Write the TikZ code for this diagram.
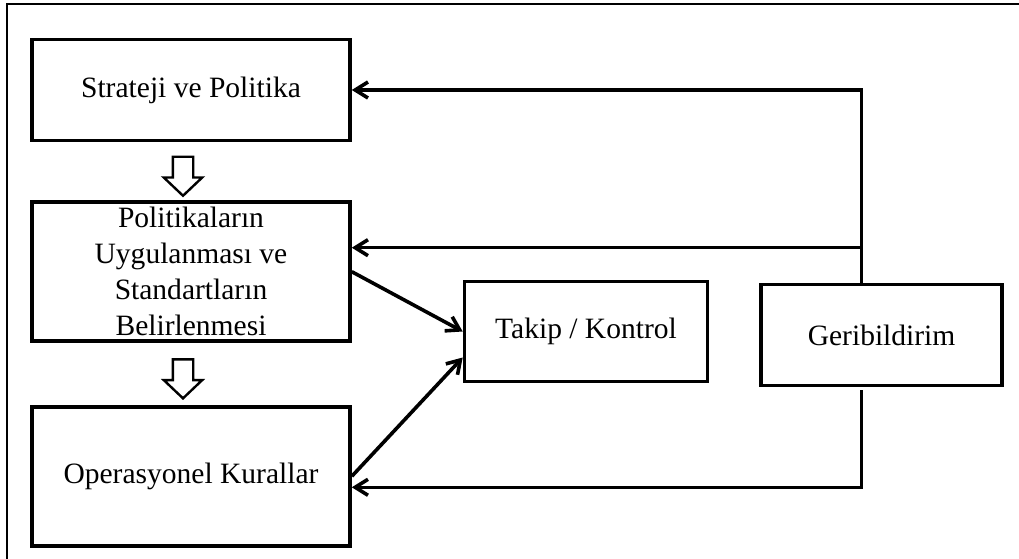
\documentclass[tikz,border=0pt]{standalone}
\usepackage{fontspec}
\setmainfont{Liberation Serif}
\usepackage{tikz}
\usetikzlibrary{arrows.meta}
\usetikzlibrary{positioning, calc, shapes.arrows}

\begin{document}
\begin{tikzpicture}[>={Straight Barb[length=3.2mm,width=4mm]}, line width=0.09cm,
	box/.style={draw, rectangle, align=center, inner sep=0pt, font=\fontsize{21}{25.6}\selectfont},
	hollow/.style={draw, single arrow, shape border rotate=270, line width=0.06cm, inner sep=0.225cm,
		minimum height=0.975cm, minimum width=0.9cm, single arrow head extend=0.225cm, single arrow tip angle=93}]
	\clip (0,0) rectangle (25.475,-13.975);
	\draw[line width=0.06cm] (0.175,-0.1) rectangle (26,-15);
	
	\node[box, minimum width=7.95cm, minimum height=2.53cm] (strat) at (4.775,-2.25) {Strateji ve Politika};
	\node[box, minimum width=7.95cm, minimum height=3.475cm] (pol) [below = 1.45cm of strat] {Politikaların\\Uygulanması ve\\Standartların\\Belirlenmesi};
	\node[box, minimum width=7.95cm, minimum height=3.475cm] (op) [below = 1.55cm of pol] {Operasyonel Kurallar};
	
	\node[box, minimum width=6.075cm, minimum height=2.5cm] (takip) at (14.65,-8.2875) {Takip / Kontrol};
	\node[box, minimum width=6.025cm, minimum height=2.525cm] (gerib) [right = 1.25cm of takip, yshift=-0.09cm] {Geribildirim};
	
	\node[hollow] (d1) at ($(strat.south)!0.5!(pol.north)+(-0.2,0)$) {};
	\node[hollow] (d2) at ($(pol.south)!0.5!(op.north)+(-0.2,0)$) {};
	
	\draw[->] (pol.east) -- (takip.west);
	\draw[->] (op.east) -- ([yshift=-0.65cm]takip.west);
	
	\draw[->] ([xshift=-0.5cm]gerib.north) |- (strat.east);
	\draw[->] ([xshift=-0.5cm]gerib.north) |- ([yshift=0.6cm]pol.east);
	\draw[->] ([xshift=-0.5cm,yshift=-0.075cm]gerib.south) |- ([yshift=-0.275cm]op.east);
\end{tikzpicture}
\end{document}
